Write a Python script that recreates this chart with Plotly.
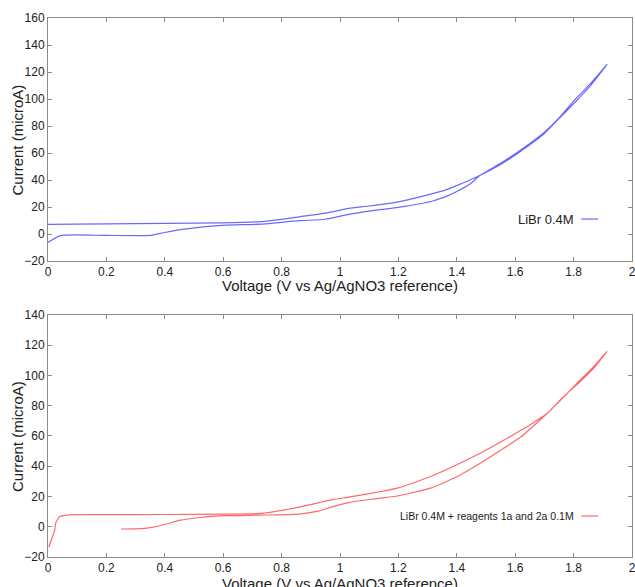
import plotly.graph_objects as go

# ---------------- data ----------------
# Top panel: LiBr 0.4M (forward scan then reverse scan)
top_fwd_x = [0.0, 0.045, 0.2, 0.35, 0.38, 0.42, 0.46, 0.53, 0.61, 0.73, 0.86, 0.95, 1.03, 1.1, 1.2,
             1.32, 1.37, 1.4, 1.445, 1.48, 1.55, 1.62, 1.7, 1.75, 1.8, 1.86, 1.915]
top_fwd_y = [-6.2, -1.0, -1.0, -1.0, 0.3, 2.0, 3.5, 5.4, 6.7, 7.4, 9.9, 11.0, 14.6, 17.0, 19.8,
             24.7, 28.5, 31.5, 37.0, 43.5, 52.5, 62.5, 75.5, 86.0, 98.5, 112.0, 125.7]
top_rev_x = [1.915, 1.86, 1.8, 1.75, 1.7, 1.62, 1.55, 1.48, 1.445, 1.4, 1.37, 1.32, 1.2, 1.1, 1.03,
             0.95, 0.86, 0.8, 0.73, 0.6, 0.4, 0.2, 0.0]
top_rev_y = [125.7, 110.5, 96.5, 85.5, 74.5, 61.5, 51.5, 43.5, 40.0, 36.0, 33.3, 30.1, 23.9, 20.8, 19.0,
             15.5, 12.8, 10.9, 9.2, 8.3, 7.9, 7.5, 7.2]

# Bottom panel: LiBr 0.4M + reagents 1a and 2a 0.1M
bot_fwd_x = [0.25, 0.32, 0.36, 0.41, 0.45, 0.52, 0.61, 0.73, 0.86, 0.93, 0.97, 1.03, 1.1, 1.14, 1.2,
             1.31, 1.4, 1.48, 1.55, 1.62, 1.71, 1.76, 1.82, 1.87, 1.915]
bot_fwd_y = [-1.5, -1.2, -0.2, 2.0, 4.2, 6.1, 7.3, 7.7, 8.4, 10.5, 13.0, 16.0, 18.0, 18.9, 20.5,
             25.5, 33.0, 42.0, 50.5, 59.5, 75.0, 84.5, 96.5, 106.0, 116.0]
bot_rev_x = [1.915, 1.87, 1.82, 1.76, 1.71, 1.66, 1.62, 1.55, 1.48, 1.4, 1.31, 1.2, 1.14, 1.03, 0.97,
             0.86, 0.73, 0.6, 0.4, 0.2, 0.075, 0.041, 0.027, 0.023, 0.003]
bot_rev_y = [116.0, 105.0, 95.5, 85.0, 75.0, 68.5, 63.9, 56.0, 48.6, 41.0, 33.2, 25.7, 23.3, 19.6, 17.8,
             13.0, 8.8, 8.3, 8.1, 8.0, 7.9, 6.8, 2.8, -2.0, -13.4]

x_ticks = [0, 0.2, 0.4, 0.6, 0.8, 1, 1.2, 1.4, 1.6, 1.8, 2]
x_ticktext = ["0", "0.2", "0.4", "0.6", "0.8", "1", "1.2", "1.4", "1.6", "1.8", "2"]

top_label = "LiBr 0.4M"
bot_label = "LiBr 0.4M + reagents 1a and 2a 0.1M"
x_title = "Voltage (V vs Ag/AgNO3 reference)"
y_title = "Current (microA)"

# ---------------- figure ----------------
BLUE = "rgb(105,105,255)"
RED = "rgb(255,105,105)"
FONT = "Liberation Sans, Arial, sans-serif"

fig = go.Figure()
fig.add_trace(go.Scatter(x=top_fwd_x + top_rev_x[1:], y=top_fwd_y + top_rev_y[1:],
                         mode="lines", line=dict(color=BLUE, width=1.2, shape="spline", smoothing=0.5),
                         name=top_label, xaxis="x", yaxis="y", showlegend=False))
fig.add_trace(go.Scatter(x=bot_fwd_x + bot_rev_x[1:], y=bot_fwd_y + bot_rev_y[1:],
                         mode="lines", line=dict(color=RED, width=1.2, shape="spline", smoothing=0.5),
                         name=bot_label, xaxis="x2", yaxis="y2", showlegend=False))

axis_common = dict(showline=True, linecolor="#8a8a8a", linewidth=1, mirror="ticks",
                   ticks="inside", ticklen=4, tickcolor="#8a8a8a", showgrid=False,
                   zeroline=False, tickfont=dict(family=FONT, size=12, color="#222"))
xaxis_common = dict(axis_common, domain=[0, 1], range=[0, 2], tickmode="array",
                    tickvals=x_ticks, ticktext=x_ticktext, ticklabeloverflow="allow")

fig.update_layout(
    width=635, height=587,
    margin=dict(l=48, r=3, t=18, b=30),
    paper_bgcolor="white", plot_bgcolor="white",
    font=dict(family=FONT, color="#222"),
    xaxis=dict(xaxis_common, anchor="y"),
    yaxis=dict(axis_common, domain=[0.549, 1.0], range=[-20, 160], dtick=20, anchor="x"),
    xaxis2=dict(xaxis_common, anchor="y2"),
    yaxis2=dict(axis_common, domain=[0.0, 0.449], range=[-20, 140], dtick=20, anchor="x2"),
    showlegend=False,
)
fig.update_xaxes(automargin=False)
fig.update_yaxes(automargin=False)

# axis titles
for ypos in (0.5028, -0.0483):
    fig.add_annotation(xref="paper", yref="paper", x=0.5, y=ypos, text=x_title,
                       showarrow=False, xanchor="center", yanchor="middle",
                       font=dict(family=FONT, size=15, color="#222"))
for ypos in (0.7745, 0.2245):
    fig.add_annotation(xref="paper", yref="paper", x=-0.0514, y=ypos, text=y_title,
                       textangle=-90, showarrow=False, xanchor="center", yanchor="middle",
                       font=dict(family=FONT, size=15, color="#222"))

# legend-like labels (text with line sample on the right)
fig.add_annotation(xref="paper", yref="paper", x=0.904, y=0.627, text=top_label,
                   showarrow=False, xanchor="right", yanchor="middle",
                   font=dict(family=FONT, size=13, color="#222"))
fig.add_shape(type="line", xref="paper", yref="paper", x0=0.913, x1=0.942, y0=0.627, y1=0.627,
              line=dict(color=BLUE, width=1.2))
fig.add_annotation(xref="paper", yref="paper", x=0.904, y=0.076, text=bot_label,
                   showarrow=False, xanchor="right", yanchor="middle",
                   font=dict(family=FONT, size=10.5, color="#222"))
fig.add_shape(type="line", xref="paper", yref="paper", x0=0.913, x1=0.942, y0=0.076, y1=0.076,
              line=dict(color=RED, width=1.2))

fig.write_html("out.html", config={"displayModeBar": False},
               post_script="document.body.style.margin='0';document.body.style.overflow='hidden';")
